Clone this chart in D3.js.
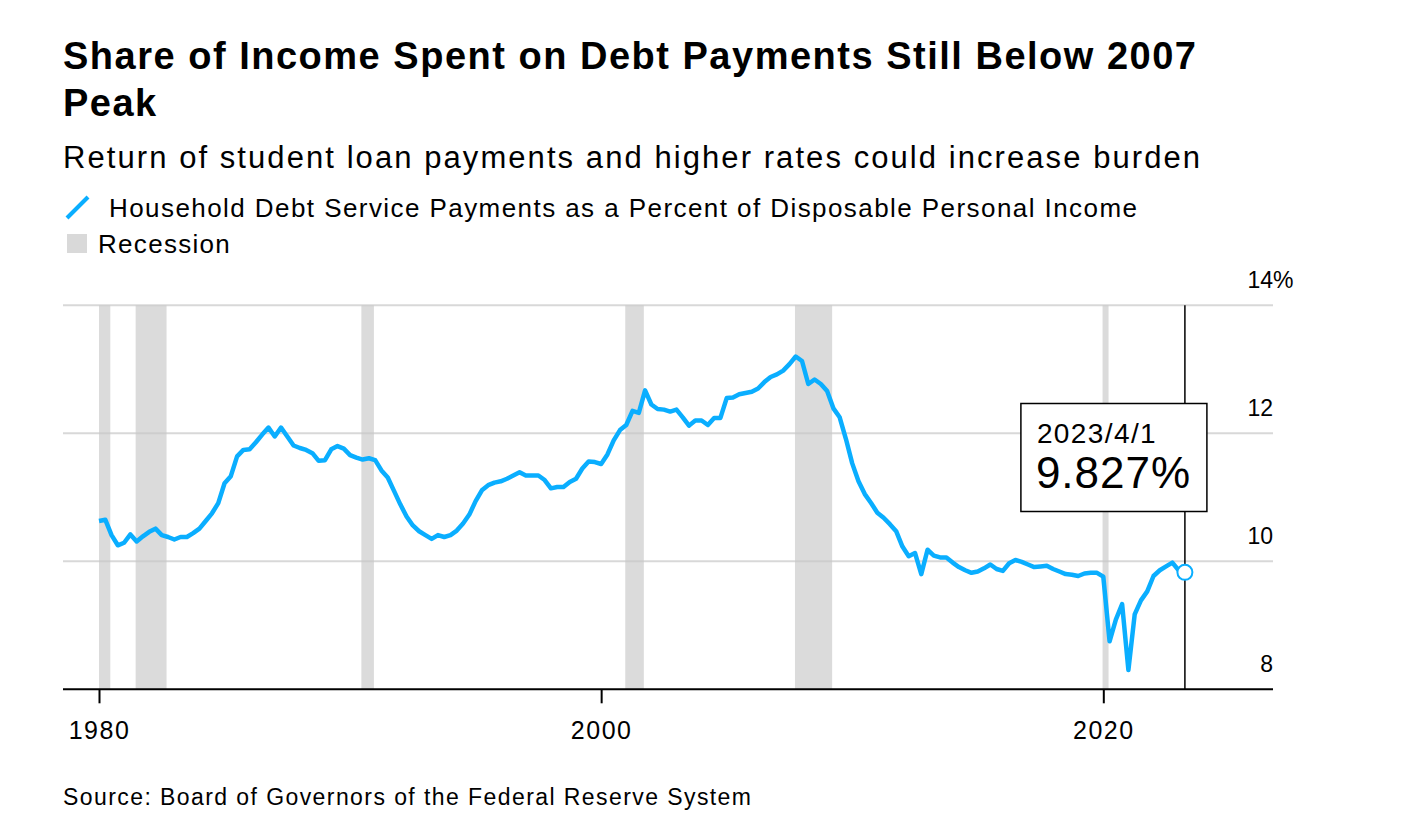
<!DOCTYPE html>
<html lang="en">
<head>
<meta charset="UTF-8">
<title>Share of Income Spent on Debt Payments Still Below 2007 Peak</title>
<style>
  body { margin: 0; background: #fff; }
  svg { font-family: "Liberation Sans", Arial, sans-serif; }
  svg text { fill: #000; }
</style>
</head>
<body>
<svg id="chart" width="1408" height="836"></svg>
<script src="https://d3js.org/d3.v7.min.js"></script>
<script>
// household debt service payments, % of disposable income, quarterly 1980 Q1 .. 2023 Q2
const startYear = 1980;
const dsr = [
  10.63, 10.65, 10.41, 10.25, 10.29, 10.42, 10.31, 10.39, 10.46, 10.51,
  10.41, 10.38, 10.34, 10.38, 10.38, 10.44, 10.51, 10.63, 10.75, 10.91,
  11.22, 11.33, 11.64, 11.74, 11.75, 11.86, 11.98, 12.09, 11.95, 12.09,
  11.95, 11.81, 11.77, 11.74, 11.69, 11.57, 11.58, 11.75, 11.80, 11.76,
  11.66, 11.62, 11.59, 11.61, 11.58, 11.42, 11.31, 11.10, 10.89, 10.70,
  10.56, 10.47, 10.41, 10.35, 10.41, 10.38, 10.41, 10.48, 10.59, 10.73,
  10.94, 11.11, 11.19, 11.23, 11.25, 11.29, 11.34, 11.39, 11.34, 11.34,
  11.34, 11.27, 11.14, 11.16, 11.16, 11.24, 11.29, 11.45, 11.56, 11.55,
  11.52, 11.67, 11.89, 12.05, 12.13, 12.35, 12.32, 12.67, 12.45, 12.38,
  12.37, 12.34, 12.37, 12.25, 12.12, 12.20, 12.20, 12.13, 12.24, 12.24,
  12.55, 12.56, 12.61, 12.63, 12.65, 12.70, 12.80, 12.88, 12.92, 12.98,
  13.08, 13.20, 13.13, 12.77, 12.84, 12.77, 12.66, 12.39, 12.25, 11.91,
  11.53, 11.25, 11.05, 10.91, 10.76, 10.68, 10.58, 10.47, 10.23, 10.08,
  10.13, 9.80, 10.18, 10.09, 10.06, 10.06, 9.98, 9.91, 9.86, 9.82,
  9.84, 9.89, 9.95, 9.88, 9.85, 9.97, 10.02, 9.99, 9.95, 9.91,
  9.92, 9.93, 9.88, 9.84, 9.80, 9.79, 9.77, 9.81, 9.82, 9.82,
  9.76, 8.75, 9.09, 9.33, 8.30, 9.17, 9.39, 9.53, 9.77, 9.86,
  9.92, 9.98, 9.86, 9.827
];
// recession spans as fractional years
const recessions = [
  [1980.0, 1980.45],
  [1981.46, 1982.69],
  [1990.45, 1990.95],
  [2000.96, 2001.70],
  [2007.72, 2009.20],
  [2019.97, 2020.21]
];
const xTicks = [1980, 2000, 2020];
const yTicks = [8, 10, 12, 14];
const lastDateLabel = "2023/4/1";

const svg = d3.select("#chart");
const blue = "#0aaeff";
const plotLeft = 63, plotRight = 1273, plotTop = 305.3, plotBottom = 689.3;

// x: 1980 sits at 99, 2020 at 1103.3
const x = d3.scaleLinear().domain([1980, 2020]).range([99, 1103.3]);
x.domain([x.invert(plotLeft), x.invert(plotRight)]).range([plotLeft, plotRight]);
const y = d3.scaleLinear().domain([8, 14]).range([plotBottom, plotTop]);
const dateOf = i => startYear + i / 4;

// titles (the original face is wider than Liberation Sans, so stretch the spacing)
svg.append("text").attr("x", 63).attr("y", 69)
  .style("font-size", "38px").style("font-weight", "bold")
  .attr("textLength", 1133).attr("lengthAdjust", "spacing")
  .text("Share of Income Spent on Debt Payments Still Below 2007");
svg.append("text").attr("x", 63).attr("y", 116)
  .style("font-size", "38px").style("font-weight", "bold")
  .style("letter-spacing", "1.5px")
  .text("Peak");
svg.append("text").attr("x", 63).attr("y", 168)
  .style("font-size", "31px")
  .attr("textLength", 1137).attr("lengthAdjust", "spacing")
  .text("Return of student loan payments and higher rates could increase burden");

// legend
svg.append("line").attr("x1", 67).attr("y1", 218).attr("x2", 88).attr("y2", 197)
  .attr("stroke", blue).attr("stroke-width", 4);
svg.append("text").attr("x", 109).attr("y", 217).style("font-size", "26px")
  .attr("textLength", 1028).attr("lengthAdjust", "spacing")
  .text("Household Debt Service Payments as a Percent of Disposable Personal Income");
svg.append("rect").attr("x", 67).attr("y", 234).attr("width", 20).attr("height", 19)
  .attr("fill", "#d9d9d9");
svg.append("text").attr("x", 98).attr("y", 253).style("font-size", "26px")
  .style("letter-spacing", "1.3px")
  .text("Recession");

// recession bands
svg.append("g").selectAll("rect").data(recessions).join("rect")
  .attr("x", d => x(d[0]))
  .attr("width", d => x(d[1]) - x(d[0]))
  .attr("y", plotTop)
  .attr("height", plotBottom - plotTop)
  .attr("fill", "#d9d9d9")
  .attr("opacity", 0.95);

// gridlines
svg.append("g").selectAll("line").data(yTicks.filter(d => d > 8)).join("line")
  .attr("x1", plotLeft).attr("x2", plotRight)
  .attr("y1", d => y(d)).attr("y2", d => y(d))
  .attr("stroke", "#c8c8c8").attr("stroke-opacity", 0.7).attr("stroke-width", 2);

// y labels above the gridlines
const yl = svg.append("g").style("font-size", "23px");
yl.selectAll("text").data(yTicks).join("text")
  .attr("x", plotRight).attr("y", d => y(d) - 17)
  .attr("text-anchor", "end")
  .text(d => d);
yl.append("text").attr("x", plotRight).attr("y", y(14) - 17).text("%");

// x axis
const xAxis = d3.axisBottom(x).tickValues(xTicks).tickFormat(d3.format("d"))
  .tickSize(14).tickPadding(18);
const gx = svg.append("g").attr("transform", `translate(0,${plotBottom})`).call(xAxis);
gx.select(".domain").remove();
gx.selectAll(".tick line").attr("stroke", "#000").attr("stroke-width", 2);
gx.selectAll(".tick text")
  .style("font-size", "25px")
  .style("letter-spacing", "1.5px")
  .style("font-family", "Liberation Sans, Arial, sans-serif")
  .attr("fill", "#000");
svg.append("line").attr("x1", plotLeft).attr("x2", plotRight).attr("y1", plotBottom).attr("y2", plotBottom)
  .attr("stroke", "#000").attr("stroke-width", 2);

// series line
const line = d3.line().x((d, i) => x(dateOf(i))).y(d => y(d));
svg.append("path").datum(dsr)
  .attr("d", line)
  .attr("fill", "none")
  .attr("stroke", blue)
  .attr("stroke-width", 4.5)
  .attr("stroke-linejoin", "round");

// marker for the latest value
const li = dsr.length - 1;
const lx = x(dateOf(li)), ly = y(dsr[li]);
svg.append("line").attr("x1", lx).attr("x2", lx).attr("y1", plotTop).attr("y2", plotBottom)
  .attr("stroke", "#000").attr("stroke-width", 1.5);
svg.append("rect").attr("x", lx - 164).attr("y", 403.5).attr("width", 186).attr("height", 108)
  .attr("fill", "#fff").attr("stroke", "#000").attr("stroke-width", 1.5);
svg.append("text").attr("x", lx - 148).attr("y", 443).style("font-size", "28px")
  .style("letter-spacing", "1.4px")
  .text(lastDateLabel);
svg.append("text").attr("x", lx - 149).attr("y", 488).style("font-size", "44px")
  .style("letter-spacing", "1px")
  .text(d3.format(".3f")(dsr[li]) + "%");
svg.append("circle").attr("cx", lx).attr("cy", ly).attr("r", 7.5)
  .attr("fill", "#fff").attr("stroke", blue).attr("stroke-width", 2);

// source
svg.append("text").attr("x", 63).attr("y", 805).style("font-size", "23px")
  .attr("textLength", 688).attr("lengthAdjust", "spacing")
  .text("Source: Board of Governors of the Federal Reserve System");
</script>
</body>
</html>
